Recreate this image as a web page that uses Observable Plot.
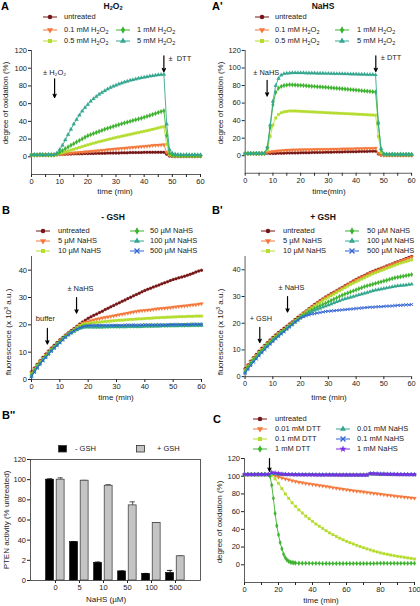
<!DOCTYPE html>
<html><head><meta charset="utf-8">
<script src="https://cdn.jsdelivr.net/npm/d3@7"></script>
<script src="https://cdn.jsdelivr.net/npm/@observablehq/plot@0.6"></script>
<style>
body{margin:0;background:#fff;}
#fig{position:relative;width:420px;height:606px;font-family:"Liberation Sans",Arial,sans-serif;color:#222;overflow:hidden;background:#fff}
.abs{position:absolute;white-space:nowrap;line-height:1}
.letter{font-weight:bold;font-size:11px;color:#000}
.title{font-weight:bold;font-size:8.5px;color:#111}
.leg{font-size:7.5px}
.axl{font-size:8px}
sub{font-size:5.5px;vertical-align:-1.5px;line-height:0}
sup{font-size:5.5px;vertical-align:3px;line-height:0}
</style></head>
<body><div id="fig"></div>
<script>
// ---------- colours ----------
const C_UNT = "#761616", C_OR = "#f4783c", C_YG = "#b4dd2e", C_GR = "#3db22e", C_TE = "#35a68f", C_BL = "#2f62d4", C_PU = "#7a2fe6";

// ---------- Panel A (H2O2), t = 0..60 min ----------
const tA = d3.range(0, 61);
const A_untreated = [2,2.2,2,2.3,2.1,2,2.4,2.2, 2.5,2.6,2.8,3,3,3.1,3.2,3.3,3.4,3.5, 3.5,3.6,3.7,3.8,3.8,3.9,4,4,4.1,4.2, 4.2,4.3,4.4,4.4,4.5,4.6,4.6,4.7,4.8,4.8, 4.9,4.9,5,5,5.1,5.1,5.2,5.2,5.2,5.2, 3,1,0.6,0.5,0.5,0.6,0.5,0.5,0.6,0.5,0.5,0.5,0.5];
const A_h01 = [2.1,2,2.2,2,2.3,2.1,2,2.2, 2.2,2.5,2.8,3.1,3.4,3.7,4,4.3,4.6,4.9, 5.2,5.5,5.8,6.1,6.4,6.7,7,7.3,7.6,7.9, 8.2,8.5,8.8,9.1,9.4,9.7,10,10.3,10.6,10.9, 11.2,11.5,11.8,12.1,12.4,12.7,13,13.2,13.4,13.6, 5,1.5,1,0.8,1,0.8,0.9,1,0.8,0.9,0.8,1,0.8];
const A_h05 = [2,2.2,2.1,2,2.3,2.2,2,2.1, 2,2.8,3.7,4.6,5.5,6.5,7.5,8.5,9.5,10.5, 11.5,12.5,13.5,14.4,15.3,16.2,17,17.8,18.6,19.4, 20.2,21,21.8,22.5,23.2,23.9,24.6,25.3,26,26.7, 27.4,28.1,28.8,29.5,30.2,31,31.8,32.6,33.4,34, 14,2.5,1.5,1.2,1,1.2,1,1.1,1,1.2,1,1,1.1];
const A_h1 = [2.2,2,2.1,2.3,2,2.2,2.1,2, 2,3.5,5,7,9,11,13,14.8,16.6,18.4, 20.2,22,23.8,25,26.2,27.4,28.6,29.8,31,32.1, 33.2,34.2,35.2,36.2,37.2,38.2,39.1,40,40.9,41.8, 42.7,43.6,44.5,45.6,46.7,47.8,48.9,50,51,52, 24,4,2,1.5,1.5,1.4,1.5,1.3,1.5,1.4,1.3,1.5,1.4];
const A_h5 = [2.3,2.5,2.2,2.4,2.6,2.3,2.5,2.4, 2.5,4,8,13,19,25,31,37,42,47, 51.5,55.5,59,62.5,65.5,68,70.5,72.5,74.5,76.3, 78,79.5,80.8,82,83.2,84.3,85.3,86.2,87,87.8, 88.5,89.2,89.8,90.4,91,91.5,92,92.4,92.8,93, 37,8,4,3,2.5,2.5,2.2,2.5,2.2,2.2,2.5,2.2,2.2];

// ---------- Panel A' (NaHS), t = 0..60 min ----------
const Ap_untreated = [2.5,2.3,2.6,2.4,2.5,2.3,2.6,2.5, 2.6,2.5,2.5,2.6,2.7,2.8,2.9,3,3,3.1, 3.2,3.2,3.3,3.4,3.4,3.5,3.6,3.6,3.7,3.8, 3.8,3.9,4,4,4.1,4.2,4.2,4.3,4.4,4.4, 4.5,4.6,4.6,4.7,4.8,4.8,4.9,5,5,5.1, 2,0.8,0.5,0.6,0.5,0.5,0.6,0.5,0.5,0.6,0.5,0.5,0.5];
const Ap_h01 = [2.4,2.6,2.5,2.3,2.5,2.6,2.4,2.5, 3.5,4.2,4.8,5.2,5.5,5.8,6,6.2,6.4,6.5, 6.6,6.7,6.8,6.8,6.9,7,7,7.1,7.1,7.2, 7.2,7.3,7.3,7.4,7.5,7.5,7.6,7.7,7.7,7.8, 7.9,7.9,8,8.1,8.1,8.2,8.3,8.3,8.4,8.5, 3,1,0.6,0.5,0.6,0.5,0.5,0.6,0.5,0.5,0.6,0.5,0.5];
const Ap_h05 = [2.5,2.4,2.6,2.5,2.3,2.5,2.6,2.5, 7,22,35,43,47,49,50,50.5,51,51, 51,50.8,50.6,50.5,50.3,50.1,50,49.8,49.6,49.5, 49.3,49.1,49,48.8,48.6,48.5,48.3,48.2,48,47.9, 47.7,47.6,47.4,47.2,47.1,46.9,46.7,46.5,46.3,46.2, 22,4,1.5,1.2,1,1.1,1,1.2,1,1.1,1,1,1.1];
const Ap_h1 = [2.4,2.6,2.5,2.7,2.4,2.5,2.6,2.7, 9,32,58,72,77,79,80,80.5,81,80.8, 80.6,80.4,80.2,80,79.7,79.5,79.2,79,78.7,78.5, 78.2,78,77.7,77.4,77.1,76.9,76.6,76.3,76,75.7, 75.4,75.1,74.8,74.5,74.2,73.9,73.6,73.3,73,72.6, 36,7,2,1.6,1.5,1.6,1.4,1.5,1.6,1.4,1.5,1.5,1.4];
const Ap_h5 = [2.6,2.5,2.7,2.5,2.6,2.8,2.6,2.7, 10,35,62,80,88,92,93.5,94,94.3,94.5, 94.5,94.5,94.4,94.4,94.3,94.2,94.2,94.1,94,94, 93.9,93.8,93.8,93.7,93.6,93.5,93.5,93.4,93.3,93.2, 93.1,93,93,92.9,92.8,92.7,92.6,92.5,92.4,92.3, 38,8,2,1.8,1.6,1.7,1.5,1.6,1.7,1.5,1.6,1.6,1.5];

// ---------- Panel B (- GSH), fluorescence x10^3, t = 0..60 ----------
const B_untreated = [2.8,4.2,5.6,6.9,8.1,9.3,10.4,11.5,12.5,13.5, 14.5,15.4,16.3,17.1,17.9,18.7,19.5,20.3,21,21.7, 22.4,23,23.5,24,24.5,25,25.6,26.1,26.6,27.1, 27.6,28.1,28.6,29.1,29.6,30.1,30.6,31.1,31.6,32.1, 32.6,33,33.4,33.8,34.2,34.6,35,35.4,35.8,36.2, 36.6,36.9,37.2,37.5,37.8,38.1,38.5,38.9,39.3,39.7,40];
const B_n5 = [2.4,3.9,5.3,6.6,7.8,9,10.1,11.2,12.2,13.2, 14.2,15.1,16,16.8,17.6,18.4,19.2,19.9,20.6,20.9, 21.2,21.5,21.8,22.1,22.3,22.5,22.7,22.9,23.1,23.3, 23.5,23.7,23.9,24.1,24.3,24.5,24.7,24.9,25.1,25.2, 25.3,25.4,25.5,25.6,25.8,25.9,26,26.1,26.2,26.3, 26.5,26.6,26.7,26.8,26.9,27,27.2,27.3,27.4,27.6,27.7];
const B_n10 = [2.2,3.7,5.1,6.4,7.6,8.8,9.9,11,12,13, 14,14.9,15.8,16.6,17.4,18.2,19,19.7,20.2,20.4, 20.5,20.7,20.8,20.9,21,21.1,21.2,21.3,21.4,21.5, 21.6,21.7,21.7,21.8,21.9,22,22,22.1,22.2,22.2, 22.3,22.4,22.4,22.5,22.6,22.6,22.7,22.7,22.8,22.8, 22.9,22.9,23,23,23,23.1,23.1,23.1,23.2,23.2,23.2];
const B_n50 = [1.8,3.3,4.7,6,7.2,8.4,9.6,10.7,11.8,12.8, 13.8,14.8,15.7,16.5,17.2,17.8,18.4,18.9,19.3,19.5, 19.5,19.5,19.4,19.4,19.4,19.4,19.4,19.4,19.5,19.5, 19.5,19.5,19.5,19.5,19.6,19.6,19.6,19.6,19.6,19.7, 19.7,19.7,19.7,19.7,19.8,19.8,19.8,19.8,19.8,19.9, 19.9,19.9,19.9,19.9,19.9,20,20,20,20,20,20];
const B_n100 = [1.2,2.8,4.3,5.7,7,8.2,9.4,10.5,11.6,12.6, 13.6,14.6,15.5,16.3,17,17.6,18.2,18.7,19,19.2, 19.2,19.2,19.2,19.2,19.2,19.2,19.3,19.3,19.3,19.3, 19.3,19.3,19.3,19.3,19.4,19.4,19.4,19.4,19.4,19.4, 19.5,19.5,19.5,19.5,19.5,19.5,19.6,19.6,19.6,19.6, 19.6,19.6,19.7,19.7,19.7,19.7,19.7,19.8,19.8,19.8,19.8];
const B_n500 = [1,2.6,4.1,5.5,6.8,8,9.2,10.3,11.4,12.4, 13.4,14.4,15.4,16.3,17.1,17.8,18.4,18.9,19.3,19.6, 19.7,19.8,19.8,19.8,19.8,19.8,19.8,19.8,19.8,19.8, 19.8,19.8,19.8,19.9,19.9,19.9,19.9,19.9,19.9,19.9, 20,20,20,20,20,20,20,20,20,20.1, 20.1,20.1,20.1,20.1,20.1,20.1,20.1,20.2,20.2,20.2,20.2];

// ---------- Panel B' (+ GSH) ----------
const Bp_untreated = [3,4.4,5.8,7.1,8.3,9.5,10.6,11.7,12.7,13.7, 14.7,15.6,16.5,17.3,18.1,18.9,19.7,20.5,21.4,22.2, 23,23.8,24.6,25.4,26.2,27,27.7,28.4,29.1,29.8, 30.4,31,31.6,32.2,32.8,33.4,34,34.6,35.2,35.8, 36.4,36.9,37.4,37.9,38.4,38.9,39.4,39.8,40.2,40.6, 41,41.4,41.8,42.2,42.6,43,43.4,43.8,44.2,44.6,45];
const Bp_n5 = [2.6,4.1,5.5,6.8,8,9.2,10.3,11.4,12.4,13.4, 14.4,15.3,16.2,17,17.8,18.6,19.4,20.2,21.1,21.9, 22.8,23.6,24.4,25.2,26,26.8,27.5,28.2,28.9,29.6, 30.2,30.8,31.4,32,32.6,33.2,33.8,34.4,35,35.6, 36.2,36.7,37.2,37.7,38.2,38.7,39.2,39.6,40,40.4, 40.8,41.2,41.6,42,42.4,42.8,43.2,43.6,44,44.4,44.8];
const Bp_n10 = [2.4,3.9,5.3,6.6,7.8,9,10.1,11.2,12.2,13.2, 14.2,15.1,16,16.8,17.6,18.4,19.2,20,20.9,21.8, 22.6,23.4,24.2,25,25.7,26.4,27.1,27.8,28.5,29.1, 29.7,30.3,30.9,31.5,32.1,32.7,33.3,33.9,34.5,35, 35.5,36,36.5,37,37.5,38,38.5,38.9,39.3,39.7, 40.1,40.5,40.9,41.3,41.7,42.1,42.5,42.8,43.1,43.4,43.7];
const Bp_n50 = [2,3.5,4.9,6.2,7.4,8.6,9.7,10.8,11.8,12.8, 13.8,14.7,15.6,16.5,17.3,18.1,18.9,19.7,20.5,21.4, 22.2,22.9,23.6,24.3,24.9,25.5,26,26.5,27,27.5, 28,28.5,29,29.5,30,30.5,30.9,31.3,31.7,32.1, 32.5,32.9,33.3,33.7,34,34.3,34.6,34.9,35.2,35.5, 35.8,36.1,36.4,36.7,37,37.2,37.4,37.6,37.8,38,38.2];
const Bp_n100 = [1.5,3,4.4,5.7,6.9,8.1,9.2,10.3,11.4,12.4, 13.4,14.4,15.3,16.2,17,17.9,18.7,19.5,20.4,21.2, 22,22.6,23.2,23.8,24.3,24.8,25.2,25.6,26,26.4, 26.8,27.2,27.6,28,28.4,28.8,29.1,29.4,29.7,30, 30.3,30.6,30.9,31.2,31.5,31.8,32.1,32.4,32.6,32.8, 33,33.2,33.4,33.6,33.8,34,34.1,34.2,34.3,34.5,34.6];
const Bp_n500 = [1.2,2.7,4.1,5.4,6.6,7.8,8.9,10,11.1,12.1, 13.1,14.1,15,15.9,16.8,17.7,18.6,19.5,20.4,21.2, 21.9,22.4,22.8,23.1,23.4,23.6,23.8,24,24.2,24.4, 24.5,24.6,24.7,24.8,24.9,25,25.1,25.2,25.3,25.4, 25.5,25.6,25.7,25.8,25.9,26,26,26.1,26.2,26.2, 26.3,26.4,26.4,26.5,26.6,26.7,26.7,26.8,26.9,26.9,27];

// ---------- Panel B'' (PTEN activity bars) ----------
const Bpp_categories = ["0","5","10","50","100","500"];
const Bpp_minusGSH = [100, 38, 17.5, 9, 6.5, 7.5];
const Bpp_minusGSH_err = [0.8, 0.5, 0.8, 0.4, 0.5, 2.5];
const Bpp_plusGSH = [100, 99, 94, 74.5, 57, 24];
const Bpp_plusGSH_err = [1.8, 0.3, 1, 3.5, 0.3, 0.3];
const Bpp_yTickLabels = ["0","2","40","60","80","100","120"];

// ---------- Panel C, t = 0..100 min ----------
const tC = d3.range(0, 101, 2);
const C_untreated = [102,102,102,101.8,102,102,102,102,102.8,102.6, 102.3,102,102,102,102,101.8,101.8,101.8,101.8,101.8, 101.8,101.7,101.7,101.7,101.7,101.7,101.7,101.6,101.6,101.6, 101.6,101.6,101.6,101.6,101.6,101.6,101.6,102.8,102.6,102.4, 102.2,102.1,102,102,102,101.9,101.9,101.9,101.8,101.8, 101.8];
const C_dtt001 = [102,102,102,102,102,102,102,102,102,100.5, 99,98,97,96,95,94,93.3,92.6,92,91.4, 90.8,90.2,89.6,89,88.4,87.8,87.2,86.6,86,85.4, 84.8,84.2,83.7,83.2,82.7,82.2,81.7,81.2,80.7,80.2, 79.7,79.2,78.7,78.2,77.7,77.2,76.8,76.4,76,75.6, 75.2];
const C_dtt01 = [102,102,102,102,102,102,102,102,101,97, 92,86,80,75,70,66,62,58.5,55,52, 49,46,43.5,41,38.5,36,34,32,30,28.2, 26.5,25,23.5,22,20.6,19.3,18,16.8,15.6,14.5, 13.5,12.6,11.8,11,10.3,9.6,9,8.4,7.8,7.2, 6.5];
const tC_dtt1 = [0,2,4,6,8,10,12,14, 15,16,17,18,19,20,21,22,23,24,25,26,27,28,29,30, 32,34,36,38,40,42,44,46,48,50,52,54,56,58,60,62,64,66,68,70,72,74,76,78,80,82,84,86,88,90,92,94,96,98,100];
const C_dtt1 = [102,102,102,102,102,102,102,102, 100,90,75,58,44,34,25,18,12,8,5.5,4,3,2.5,2.2,2, 1.8,1.7,1.7,1.6,1.6,1.6,1.6,1.5,1.5,1.5, 1.5,1.5,1.5,1.5,1.5,1.5,1.5,1.5,1.5,1.5, 1.5,1.5,1.5,1.6,1.7,1.7,1.6,1.6,1.6,1.6, 1.6,1.6,1.6,1.6,1.6];
const C_nahs001 = [102,102,102,102,102,102,102,102,103,102.8, 102.5,102.2,102,101.9,101.9,101.8,101.8,101.7,101.7,101.7, 101.6,101.6,101.6,101.5,101.5,101.5,101.5,101.5,101.4,101.4, 101.4,101.4,101.4,101.3,101.3,101.3,101.3,102.5,102.6,102.5, 102.4,102.3,102.2,102.1,102,102,101.9,101.9,101.8,101.8, 101.8];
const C_nahs01 = [102,102,102,102,102,102,102,102,103.5,103.2, 102.8,102.4,102.1,102,101.9,101.8,101.8,101.7,101.7,101.6, 101.6,101.6,101.5,101.5,101.5,101.5,101.5,101.4,101.4,101.4, 101.4,101.4,101.3,101.3,101.3,101.3,101.3,102.8,102.8,102.6, 102.5,102.4,102.3,102.2,102.1,102,102,101.9,101.9,101.8, 101.8];
const C_nahs1 = [102,102,102,102,102,102,102,102,104.5,104, 103.2,102.6,102.2,102,101.8,101.8,101.7,101.7,101.6,101.6, 101.6,101.5,101.5,101.5,101.5,101.5,101.4,101.4,101.4,101.4, 101.4,101.3,101.3,101.3,101.3,101.3,101.3,103,103,102.8, 102.6,102.5,102.4,102.3,102.2,102.1,102,102,101.9,101.9, 101.8];

// ---------- helpers ----------
const FONT = '"Liberation Sans", Arial, "DejaVu Sans", sans-serif';
const fig = document.getElementById("fig");
const SYM = {circle: d3.symbolCircle, triangle: d3.symbolTriangle, square: d3.symbolSquare, diamond: d3.symbolDiamond, times: d3.symbolTimes, star: d3.symbolStar};

function place(html, x, y, cls, anchor) {
  const el = document.createElement("div");
  el.className = "abs " + (cls || "");
  el.innerHTML = html;
  el.style.left = x + "px";
  el.style.top = y + "px";
  if (anchor === "middle") el.style.transform = "translate(-50%,-50%)";
  else if (anchor === "rotate") el.style.transform = "translate(-50%,-50%) rotate(-90deg)";
  else el.style.transform = "translate(0,-50%)";
  fig.appendChild(el);
}
function legendItem(cx, cy, tx, s, html) {
  const ns = "http://www.w3.org/2000/svg";
  const svg = document.createElementNS(ns, "svg");
  svg.setAttribute("width", 18); svg.setAttribute("height", 10);
  svg.style.position = "absolute"; svg.style.left = (cx - 9) + "px"; svg.style.top = (cy - 5) + "px";
  const ln = document.createElementNS(ns, "line");
  ln.setAttribute("x1", 2); ln.setAttribute("x2", 16); ln.setAttribute("y1", 5); ln.setAttribute("y2", 5);
  ln.setAttribute("stroke", s.color); ln.setAttribute("stroke-width", 1);
  svg.appendChild(ln);
  const p = document.createElementNS(ns, "path");
  p.setAttribute("d", d3.symbol().type(SYM[s.symbol]).size(s.symbol === "times" ? 18 : 16)());
  p.setAttribute("transform", `translate(9,5) rotate(${s.rotate || 0})`);
  if (s.symbol === "times") { p.setAttribute("fill", "none"); p.setAttribute("stroke", s.color); p.setAttribute("stroke-width", 1.2); }
  else p.setAttribute("fill", s.color);
  svg.appendChild(p);
  fig.appendChild(svg);
  place(html, tx, cy, "leg");
}
function rows(t, v) { return t.map((x, i) => ({t: x, v: v[i]})); }

function timePanel(cfg) {
  const [x0, x1] = cfg.xDomain, [y0, y1] = cfg.yDomain;
  const marks = [
    Plot.ruleX([x0], {y1: y0, y2: y1, stroke: "#333", strokeWidth: 0.8}),
    Plot.ruleY([y0], {x1: x0, x2: x1, stroke: "#333", strokeWidth: 0.8})
  ];
  for (const s of cfg.series) {
    const d = rows(s.t || cfg.t, s.v);
    marks.push(Plot.line(d, {x: "t", y: "v", stroke: s.color, strokeWidth: 0.9}));
    const times = s.symbol === "times";
    marks.push(Plot.dot(d, {x: "t", y: "v", symbol: s.symbol, r: s.r || 1.5, rotate: s.rotate || 0,
      fill: times ? "none" : s.color, stroke: s.color, strokeWidth: times ? 0.9 : 0.2}));
  }
  for (const a of cfg.arrows || []) {
    marks.push(Plot.arrow([a], {x1: "x", y1: "y1", x2: "x", y2: "y2", stroke: "#000", strokeWidth: 1.2, headLength: 4.5, headAngle: 50}));
  }
  for (const tx of cfg.notes || []) {
    marks.push(Plot.text([tx], {x: "x", y: "y", text: "label", textAnchor: tx.anchor || "middle", fontSize: 7.5, fill: "#222"}));
  }
  const svg = Plot.plot({
    width: cfg.width, height: cfg.height,
    marginLeft: cfg.mL, marginRight: cfg.mR, marginTop: cfg.mT, marginBottom: cfg.mB,
    style: {fontFamily: FONT, fontSize: "7.5px", color: "#222", background: "transparent", overflow: "visible"},
    x: {domain: cfg.xDomain, ticks: cfg.xTicks, tickFormat: cfg.xFmt, tickSize: 3, tickPadding: 1.5, label: null},
    y: {domain: cfg.yDomain, ticks: cfg.yTicks, tickSize: 3, tickPadding: 1.5, label: null},
    marks
  });
  const wrap = document.createElement("div");
  wrap.style.position = "absolute"; wrap.style.left = cfg.left + "px"; wrap.style.top = cfg.top + "px";
  wrap.appendChild(svg);
  fig.appendChild(wrap);
}

const sUnt = {color: C_UNT, symbol: "circle"};
const sOr = {color: C_OR, symbol: "triangle", rotate: 180};
const sYg = {color: C_YG, symbol: "square"};
const sGr = {color: C_GR, symbol: "diamond"};
const sTe = {color: C_TE, symbol: "triangle"};
const sBl = {color: C_BL, symbol: "times"};
const sPu = {color: C_PU, symbol: "star"};

const ticks5 = d3.range(0, 61, 5);
const fmt10 = d => d % 10 === 0 ? String(d) : "";
const H2O2 = "H<sub>2</sub>O<sub>2</sub>";

// ---------- Panel A ----------
place("A", 1, 6, "letter");
place(H2O2, 113, 6, "title", "middle");
legendItem(50, 17, 64, sUnt, "untreated");
legendItem(50, 29.5, 64, sOr, "0.1 mM " + H2O2);
legendItem(123, 29.5, 137, sGr, "1 mM " + H2O2);
legendItem(50, 41, 64, sYg, "0.5 mM " + H2O2);
legendItem(123, 41, 137, sTe, "5 mM " + H2O2);
timePanel({left: 1, top: 46, width: 208, height: 142, mL: 30, mR: 9, mT: 4, mB: 14,
  t: tA, xDomain: [0, 60], yDomain: [-20, 120], xTicks: ticks5, xFmt: fmt10, yTicks: [0,20,40,60,80,100,120],
  series: [{...sUnt, v: A_untreated}, {...sOr, v: A_h01}, {...sYg, v: A_h05}, {...sGr, v: A_h1}, {...sTe, v: A_h5}],
  arrows: [{x: 8.2, y1: 88, y2: 67}, {x: 47, y1: 114, y2: 96}],
  notes: [{x: 8.2, y: 95, label: "± H₂O₂"}, {x: 48.6, y: 111, label: "±  DTT", anchor: "start"}]});
place("degree of oxidation (%)", 6, 103, "axl", "rotate");
place("time (min)", 115, 192, "axl", "middle");

// ---------- Panel A' ----------
place("A'", 212, 6, "letter");
place("NaHS", 323, 6, "title", "middle");
legendItem(262, 17, 275, sUnt, "untreated");
legendItem(262, 29.5, 275, sOr, "0.1 mM " + H2O2);
legendItem(342, 29.5, 357, sGr, "1 mM " + H2O2);
legendItem(262, 41, 275, sYg, "0.5 mM " + H2O2);
legendItem(342, 41, 357, sTe, "5 mM " + H2O2);
timePanel({left: 215, top: 46, width: 207, height: 142, mL: 30, mR: 9, mT: 4, mB: 14,
  t: tA, xDomain: [0, 60], yDomain: [-20, 120], xTicks: ticks5, xFmt: fmt10, yTicks: [0,20,40,60,80,100,120],
  series: [{...sUnt, v: Ap_untreated}, {...sOr, v: Ap_h01}, {...sYg, v: Ap_h05}, {...sGr, v: Ap_h1}, {...sTe, v: Ap_h5}],
  arrows: [{x: 7.9, y1: 86, y2: 68}, {x: 47.1, y1: 114, y2: 96}],
  notes: [{x: 7.6, y: 95, label: "± NaHS"}, {x: 48.9, y: 112, label: "± DTT", anchor: "start"}]});
place("degree of oxidation (%)", 221, 103, "axl", "rotate");
place("time(min)", 329, 192, "axl", "middle");

// ---------- Panel B ----------
place("B", 2, 210, "letter");
place("- GSH", 113, 217, "title", "middle");
legendItem(43, 231, 58, sUnt, "untreated");
legendItem(43, 241, 58, sOr, "5 µM NaHS");
legendItem(43, 251, 58, sYg, "10 µM NaHS");
legendItem(137, 231, 150, sGr, "50 µM NaHS");
legendItem(137, 241, 150, sTe, "100 µM NaHS");
legendItem(137, 251, 150, sBl, "500 µM NaHS");
timePanel({left: 1, top: 252, width: 209, height: 141, mL: 30, mR: 9, mT: 4, mB: 14,
  t: tA, xDomain: [0, 60], yDomain: [0, 45], xTicks: [0,10,20,30,40,50,60], yTicks: [0,10,20,30,40],
  series: [{...sUnt, v: B_untreated}, {...sOr, v: B_n5}, {...sYg, v: B_n10}, {...sGr, v: B_n50}, {...sTe, v: B_n100}, {...sBl, v: B_n500}],
  arrows: [{x: 5.6, y1: 18.7, y2: 13}, {x: 15.9, y1: 30, y2: 24.3}],
  notes: [{x: 4.9, y: 22.3, label: "buffer"}, {x: 17.3, y: 33.3, label: "± NaHS"}]});
place("fluorescence (x 10<sup>3</sup> a.u.)", 9, 332, "axl", "rotate");
place("time (min)", 116, 398, "axl", "middle");

// ---------- Panel B' ----------
place("B'", 212, 210, "letter");
place("+ GSH", 323, 217, "title", "middle");
legendItem(268, 231, 283, sUnt, "untreated");
legendItem(268, 241, 283, sOr, "5 µM NaHS");
legendItem(268, 251, 283, sYg, "10 µM NaHS");
legendItem(352, 231, 367, sGr, "50 µM NaHS");
legendItem(352, 241, 367, sTe, "100 µM NaHS");
legendItem(352, 251, 367, sBl, "500 µM NaHS");
timePanel({left: 215, top: 252, width: 208, height: 140, mL: 30, mR: 9, mT: 4, mB: 14,
  t: tA, xDomain: [0, 60], yDomain: [0, 45], xTicks: [0,10,20,30,40,50,60], yTicks: [0,10,20,30,40],
  series: [{...sUnt, v: Bp_untreated}, {...sOr, v: Bp_n5}, {...sYg, v: Bp_n10}, {...sGr, v: Bp_n50}, {...sTe, v: Bp_n100}, {...sBl, v: Bp_n500}],
  arrows: [{x: 5.3, y1: 18.5, y2: 12.8}, {x: 15.3, y1: 30, y2: 24.2}],
  notes: [{x: 5.7, y: 21.9, label: "+ GSH"}, {x: 16.7, y: 33.3, label: "± NaHS"}]});
place("fluorescence (x 10<sup>3</sup> a.u.)", 221, 332, "axl", "rotate");
place("time (min)", 329, 398, "axl", "middle");

// ---------- Panel B'' ----------
place("B''", 2, 415, "letter");
(function () {
  const ns = "http://www.w3.org/2000/svg";
  for (const [cx, fill] of [[62, "#000"], [140, "#c4c4c4"]]) {
    const svg = document.createElementNS(ns, "svg");
    svg.setAttribute("width", 9); svg.setAttribute("height", 8);
    svg.style.position = "absolute"; svg.style.left = (cx - 4.5) + "px"; svg.style.top = (449 - 4) + "px";
    const r = document.createElementNS(ns, "rect");
    r.setAttribute("x", 0.5); r.setAttribute("y", 0.5); r.setAttribute("width", 8); r.setAttribute("height", 6.5);
    r.setAttribute("fill", fill); r.setAttribute("stroke", "#333"); r.setAttribute("stroke-width", 0.8);
    svg.appendChild(r); fig.appendChild(svg);
  }
  place("- GSH", 75, 449, "leg");
  place("+ GSH", 157, 449, "leg");

  const minus = Bpp_categories.map((c, i) => ({i, v: Bpp_minusGSH[i], e: Bpp_minusGSH_err[i]}));
  const plus = Bpp_categories.map((c, i) => ({i, v: Bpp_plusGSH[i], e: Bpp_plusGSH_err[i]}));
  const err = (data, off, col) => [
    Plot.ruleX(data, {x: d => d.i + off, y1: "v", y2: d => d.v + d.e, stroke: col, strokeWidth: 1}),
    Plot.ruleY(data, {y: d => d.v + d.e, x1: d => d.i + off - 0.11, x2: d => d.i + off + 0.11, stroke: col, strokeWidth: 1})
  ];
  const svg = Plot.plot({
    width: 206, height: 139, marginLeft: 30, marginRight: 6, marginTop: 4, marginBottom: 14,
    style: {fontFamily: FONT, fontSize: "7.5px", color: "#222", background: "transparent", overflow: "visible"},
    x: {domain: [-1.04, 6.04], ticks: [0,1,2,3,4,5], tickFormat: i => Bpp_categories[i], tickSize: 3, tickPadding: 1.5, label: null},
    y: {domain: [0, 120], ticks: [0,20,40,60,80,100,120], tickFormat: (d, k) => Bpp_yTickLabels[k], tickSize: 3, tickPadding: 1.5, label: null},
    marks: [
      ...err(minus, -0.225, "#222"),
      ...err(plus, 0.215, "#555"),
      Plot.rectY(minus, {x1: d => d.i - 0.39, x2: d => d.i - 0.06, y: "v", fill: "#000", stroke: "#000", strokeWidth: 0.6}),
      Plot.rectY(plus, {x1: d => d.i + 0.05, x2: d => d.i + 0.38, y: "v", fill: "#c4c4c4", stroke: "#333", strokeWidth: 0.7}),
      Plot.frame({stroke: "#333", strokeWidth: 0.8})
    ]
  });
  const wrap = document.createElement("div");
  wrap.style.position = "absolute"; wrap.style.left = "0px"; wrap.style.top = "455px";
  wrap.appendChild(svg); fig.appendChild(wrap);
  place("PTEN activity (% untreated)", 7, 520, "axl", "rotate");
  place("NaHS (µM)", 106, 600, "axl", "middle");
})();

// ---------- Panel C ----------
place("C", 213, 419, "letter");
legendItem(260, 419, 275, sUnt, "untreated");
legendItem(260, 429, 275, sOr, "0.01 mM DTT");
legendItem(260, 439, 275, sYg, "0.1 mM DTT");
legendItem(260, 449, 275, sGr, "1 mM DTT");
legendItem(343, 429, 357, sTe, "0.01 mM NaHS");
legendItem(343, 439, 357, sBl, "0.1 mM NaHS");
legendItem(343, 449, 357, sPu, "1 mM NaHS");
timePanel({left: 214, top: 454, width: 206, height: 142, mL: 30, mR: 6, mT: 4, mB: 14,
  t: tC, xDomain: [0, 100], yDomain: [-20, 120], xTicks: d3.range(0, 101, 10), xFmt: d => d % 20 === 0 ? String(d) : "", yTicks: [0,20,40,60,80,100,120],
  series: [{...sUnt, v: C_untreated}, {...sOr, v: C_dtt001}, {...sYg, v: C_dtt01}, {...sGr, v: C_dtt1, t: tC_dtt1},
           {...sTe, v: C_nahs001}, {...sBl, v: C_nahs01}, {...sPu, v: C_nahs1}],
  arrows: [{x: 14.7, y1: 120, y2: 105.5}]});
place("degree of oxidation (%)", 220, 522, "axl", "rotate");
place("time (min)", 321, 601, "axl", "middle");
</script>
</body></html>
